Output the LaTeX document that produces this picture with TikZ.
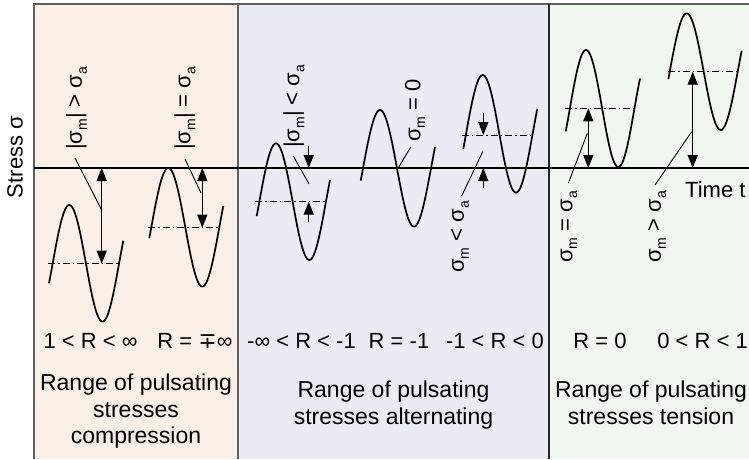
\documentclass[tikz,border=0pt]{standalone}
\usepackage{fontspec}
\setmainfont{Liberation Sans}
\newfontfamily\dejavu{DejaVu Sans}
\usetikzlibrary{arrows.meta}
\definecolor{compc}{RGB}{251,240,232}
\definecolor{altc}{RGB}{233,236,242}
\definecolor{tenc}{RGB}{240,247,238}
\definecolor{framec}{RGB}{95,95,95}
\newcommand\mysub[1]{\raisebox{-0.22em}{\fontsize{14}{14}\selectfont #1}}
\begin{document}
\begin{tikzpicture}[x=1pt,y=-1pt,
  wave/.style={line width=1.7pt},
  dim/.style={line width=1.2pt,-{Triangle[length=13pt,width=10pt]}},
  dimboth/.style={line width=1.2pt,{Triangle[length=13pt,width=10pt]}-{Triangle[length=13pt,width=10pt]}},
  ptr/.style={line width=0.9pt},
  meanl/.style={line width=0.9pt,dash pattern=on 7pt off 3pt on 1.5pt off 3pt},
  vlabel/.style={rotate=90,anchor=west,inner sep=0pt,font=\fontsize{22}{26}\selectfont},
  rlabel/.style={anchor=base,inner sep=0pt,font=\fontsize{22}{26}\selectfont},
  rangelabel/.style={anchor=north,inner sep=0pt,align=center,font=\fontsize{23}{26.5}\selectfont}]
\useasboundingbox (0,0) rectangle (749,459);
% panels
\fill[compc] (34,4) rectangle (238,459);
\fill[altc] (238,4) rectangle (549,459);
\fill[tenc] (549,4) rectangle (749,459);
\draw[framec,line width=2pt] (34,459) -- (34,4) -- (749,4);
\draw[framec,line width=1.5pt] (238,4) -- (238,459);
\draw[black!85,line width=1.5pt] (549,4) -- (549,459);
% axis
\coordinate (axL) at (34,168);
\coordinate (axR) at (749,168);
\draw[line width=1.2pt] (axL) -- (axR);
\node[rotate=90,inner sep=0pt,font=\fontsize{22}{26}\selectfont] (ylab) at (15,157) {Stress σ};
\node[anchor=base west,inner sep=0pt,font=\fontsize{22}{26}\selectfont] (xlab) at (685,197) {Time t};

% wave 1 : 1<R<inf
\draw[wave] plot[domain=49:123.3,samples=80,smooth] (\x,{263.3-58.3*cos((\x-69.3)*(360/66.4))});
\draw[meanl] (48,263.7) -- (120,263.7);
\coordinate (a1t) at (101.7,168);
\coordinate (a1b) at (101.7,263.7);
\draw[dimboth] (a1t) -- (a1b);
\node[vlabel] (l1) at (76.5,150) {|σ\mysub{m}| > σ\mysub{a}};
\coordinate (p1a) at (75,158);
\coordinate (p1b) at (101.7,210);
\draw[ptr] (p1a) -- (p1b);

% wave 2 : R = -+inf
\draw[wave] plot[domain=149.3:223.3,samples=80,smooth] (\x,{227.3-59.3*cos((\x-168.3)*(360/68))});
\draw[meanl] (148,227.7) -- (220,227.7);
\coordinate (a2t) at (202.3,168);
\coordinate (a2b) at (202.3,227.7);
\draw[dimboth] (a2t) -- (a2b);
\node[vlabel] (l2) at (185,150) {|σ\mysub{m}| = σ\mysub{a}};
\coordinate (p2a) at (185,159);
\coordinate (p2b) at (201,193);
\draw[ptr] (p2a) -- (p2b);

% wave 3 : -inf<R<-1
\draw[wave] plot[domain=256.7:330,samples=80,smooth] (\x,{201.7-58.3*cos((\x-276)*(360/66.6))});
\draw[meanl] (255,201.7) -- (327,201.7);
\coordinate (a3t0) at (308.7,146);
\coordinate (a3t1) at (308.7,168);
\coordinate (a3b0) at (308.7,221.7);
\coordinate (a3b1) at (308.7,201.7);
\draw[dim] (a3t0) -- (a3t1);
\draw[dim] (a3b0) -- (a3b1);
\node[vlabel] (l3) at (294,148) {|σ\mysub{m}| < σ\mysub{a}};
\coordinate (p3a) at (293.3,156);
\coordinate (p3b) at (309,184);
\draw[ptr] (p3a) -- (p3b);

% wave 4 : R=-1
\draw[wave] plot[domain=360.7:435,samples=80,smooth] (\x,{168.3-58.3*cos((\x-380)*(360/68))});
\node[vlabel] (l4) at (415,142) {σ\mysub{m} = 0};
\coordinate (p4a) at (411,146.7);
\coordinate (p4b) at (398,168.3);
\draw[ptr] (p4a) -- (p4b);

% wave 5 : -1<R<0
\draw[wave] plot[domain=463.3:537.3,samples=80,smooth] (\x,{133.8-58.8*cos((\x-482.7)*(360/66.6))});
\draw[meanl] (461.7,135) -- (534,135);
\coordinate (a5t0) at (483.3,113);
\coordinate (a5t1) at (483.3,135);
\coordinate (a5b0) at (483.3,188);
\coordinate (a5b1) at (483.3,168);
\draw[dim] (a5t0) -- (a5t1);
\draw[dim] (a5b0) -- (a5b1);
\node[vlabel] (l5) at (460,273) {σ\mysub{m} < σ\mysub{a}};
\coordinate (p5a) at (482.7,151.7);
\coordinate (p5b) at (461.7,196);
\draw[ptr] (p5a) -- (p5b);

% wave 6 : R=0
\draw[wave] plot[domain=565.7:640,samples=80,smooth] (\x,{108.5-58.5*cos((\x-586)*(360/64.6))});
\draw[meanl] (565,108.3) -- (637.3,108.3);
\coordinate (a6t) at (588.3,108.3);
\coordinate (a6b) at (588.3,168);
\draw[dimboth] (a6t) -- (a6b);
\node[vlabel] (l6) at (569,263) {σ\mysub{m} = σ\mysub{a}};
\coordinate (p6a) at (587.3,133.3);
\coordinate (p6b) at (568.3,183.3);
\draw[ptr] (p6a) -- (p6b);

% wave 7 : 0<R<1
\draw[wave] plot[domain=668.3:741.7,samples=80,smooth] (\x,{71.7-58.3*cos((\x-686.7)*(360/68))});
\draw[meanl] (668.3,71.7) -- (738.3,71.7);
\coordinate (a7t) at (692.7,71.7);
\coordinate (a7b) at (692.7,168);
\draw[dimboth] (a7t) -- (a7b);
\node[vlabel] (l7) at (657,263) {σ\mysub{m} > σ\mysub{a}};
\coordinate (p7a) at (691.7,131.7);
\coordinate (p7b) at (655,185);
\draw[ptr] (p7a) -- (p7b);

% R labels
\node[rlabel] (r1) at (90.5,348) {1 < R < ∞};
\node[rlabel] (r2) at (195,348) {R = {\dejavu ∓}∞};
\node[rlabel] (r3) at (301.5,348) {-∞ < R < -1};
\node[rlabel] (r4) at (399,348) {R = -1};
\node[rlabel] (r5) at (495,348) {-1 < R < 0};
\node[rlabel] (r6) at (600,348) {R = 0};
\node[rlabel] (r7) at (702.5,348) {0 < R < 1};

% range labels
\node[rangelabel] (g1) at (136,374) {Range of pulsating\\stresses\\compression};
\node[rangelabel] (g2) at (393.5,381) {Range of pulsating\\stresses alternating};
\node[rangelabel] (g3) at (651,381) {Range of pulsating\\stresses tension};
\end{tikzpicture}
\end{document}
